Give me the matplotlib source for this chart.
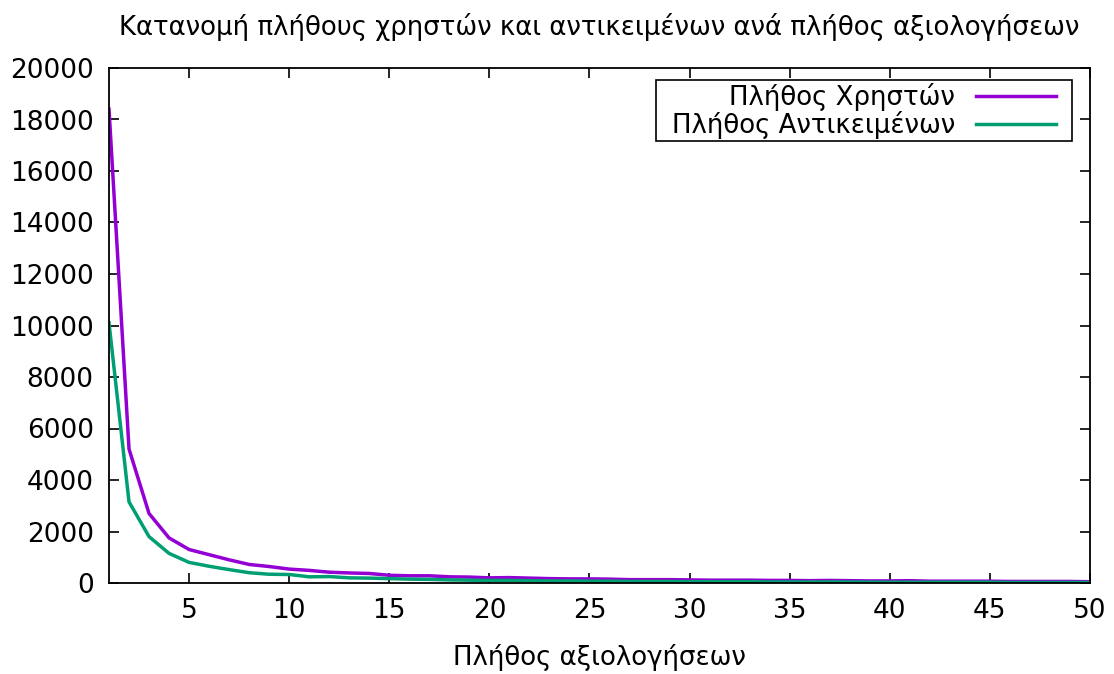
import numpy as np
import matplotlib
matplotlib.use("Agg")
import matplotlib.pyplot as plt
from matplotlib.patches import Rectangle

# Δεδομένα (εκτίμηση από το γράφημα)
ratings = list(range(1, 51))
users = [18400, 5200, 2700, 1750, 1300, 1100, 900, 720, 640, 540,
         490, 420, 390, 370, 300, 280, 280, 240, 230, 200,
         210, 190, 170, 160, 160, 150, 130, 130, 130, 120,
         110, 110, 110, 100, 100, 90, 100, 90, 80, 80,
         90, 70, 70, 70, 70, 60, 60, 60, 60, 50]
items = [10100, 3150, 1800, 1150, 800, 650, 520, 400, 340, 330,
         240, 250, 200, 190, 170, 150, 140, 120, 110, 100,
         100, 90, 80, 80, 70, 70, 60, 60, 60, 50,
         50, 50, 50, 40, 40, 40, 40, 40, 30, 30,
         30, 30, 30, 30, 30, 20, 20, 20, 20, 20]
xticks = [5, 10, 15, 20, 25, 30, 35, 40, 45, 50]
yticks = list(range(0, 20001, 2000))

plt.rcParams['font.family'] = ['DejaVu Sans']

W, H = 1114, 674
fig = plt.figure(figsize=(W / 100, H / 100), dpi=100)
ax = fig.add_axes([109 / W, 91 / H, 981 / W, 515 / H])

ax.plot(ratings, users, color="#9400D3", lw=2.5, label="Πλήθος Χρηστών")
ax.plot(ratings, items, color="#009E73", lw=2.5, label="Πλήθος Αντικειμένων")

ax.set_xlim(1, 50)
ax.set_ylim(0, 20000)
ax.set_xticks(xticks)
ax.set_yticks(yticks)
ax.tick_params(direction="in", length=7, width=1.2, top=True, right=True,
               labelsize=19, pad=11)
for s in ax.spines.values():
    s.set_linewidth(1.3)

ax.set_title("Κατανομή πλήθους χρηστών και αντικειμένων ανά πλήθος αξιολογήσεων",
             fontsize=18.7, pad=24)
ax.set_xlabel("Πλήθος αξιολογήσεων", fontsize=18.7, labelpad=14)

# legend σε στυλ gnuplot: κείμενο αριστερά, γραμμή δεξιά
leg = ax.legend(loc="upper right", bbox_to_anchor=(1059 / W, 1 - 80 / H),
                bbox_transform=fig.transFigure, markerfirst=False,
                fontsize=18.7, frameon=False, borderaxespad=0,
                handlelength=3.1, handletextpad=0.8, labelspacing=0.0,
                borderpad=0.1)
for t in leg.get_texts():
    t.set_ha("right")

fig.canvas.draw()
bb = leg.get_window_extent()
padx = 13
fig.patches.append(Rectangle((bb.x0 - padx, bb.y0), bb.width + 2 * padx, bb.height,
                             transform=None, fill=False, edgecolor="black",
                             linewidth=1.2, zorder=5))

fig.savefig("out.png", dpi=100)
